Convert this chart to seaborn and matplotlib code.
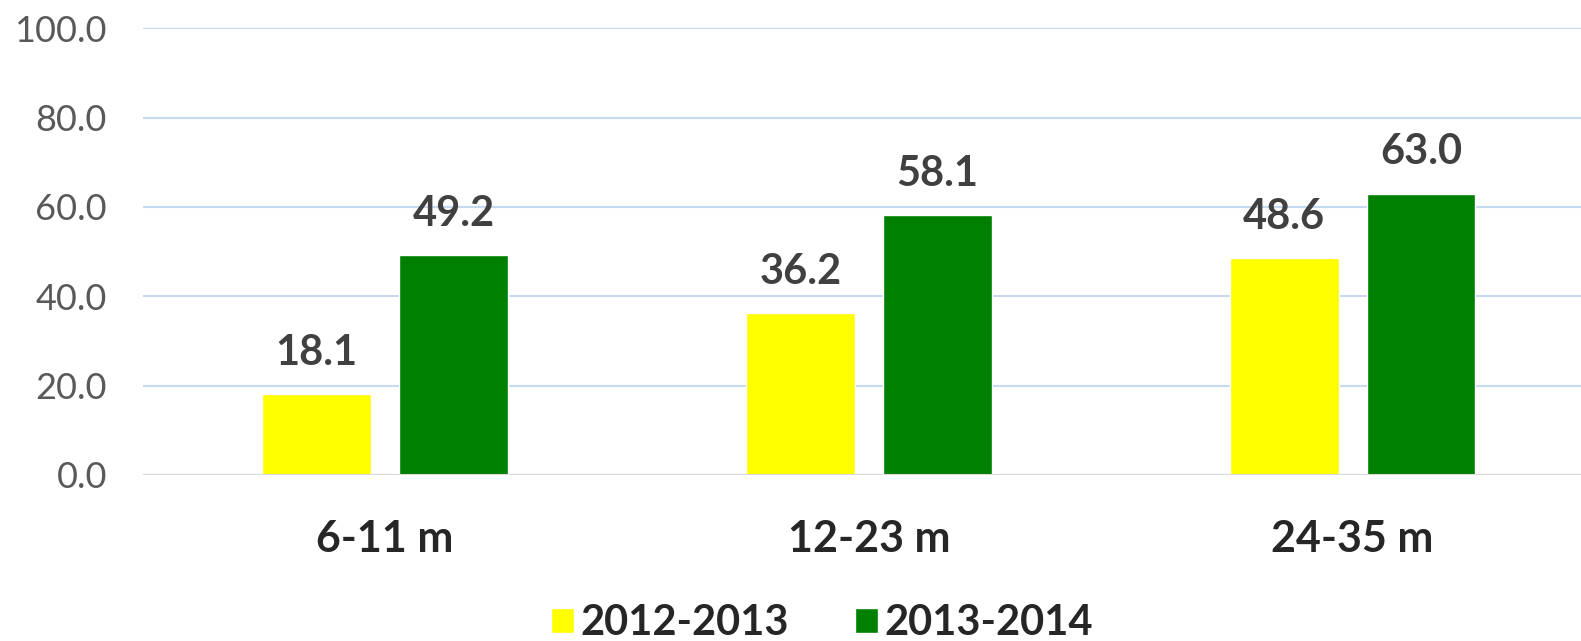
import pandas as pd
import matplotlib
matplotlib.use("Agg")
import matplotlib.pyplot as plt
import seaborn as sns

# chart data
age_groups = ["6-11 m", "12-23 m", "24-35 m"]
periods = ["2012-2013", "2013-2014"]
values_2012_2013 = [18.1, 36.2, 48.6]
values_2013_2014 = [49.2, 58.1, 63.0]
y_ticks = [0, 20, 40, 60, 80, 100]

COLORS = {"2012-2013": "#FFFF00", "2013-2014": "#008000"}

df = pd.DataFrame({
    "age": age_groups * 2,
    "period": [periods[0]] * 3 + [periods[1]] * 3,
    "value": values_2012_2013 + values_2013_2014,
})

sns.set_style("white")
plt.rcParams["font.family"] = ["Lato", "DejaVu Sans"]

fig = plt.figure(figsize=(15.81, 6.41), dpi=100)
ax = fig.add_axes([0.0905, 0.259, 0.918, 0.697])

sns.barplot(data=df, x="age", y="value", hue="period", palette=COLORS,
            width=0.566, gap=0.205, ax=ax, errorbar=None, saturation=1)

for c in ax.containers:
    ax.bar_label(c, fmt="%.1f", padding=16, fontsize=30, fontweight="bold", color="#404040")

ax.set_xlim(-0.5, 2.5)
ax.set_ylim(0, 100)
ax.set_yticks(y_ticks)
ax.set_yticklabels([f"{v:.1f}" for v in y_ticks])
ax.grid(True, axis="y", color="#C5D9F1", linewidth=1.5)
ax.set_axisbelow(True)
ax.axhline(0, color="#D9D9D9", linewidth=1.5, zorder=1)
for s in ax.spines.values():
    s.set_visible(False)

ax.tick_params(axis="y", length=0, pad=26, labelsize=26, labelcolor="#595959")
ax.tick_params(axis="x", length=0, pad=32, labelsize=31)
for t in ax.get_xticklabels():
    t.set_fontweight("bold")
ax.set_xlabel("")
ax.set_ylabel("")

handles, labels = ax.get_legend_handles_labels()
ax.get_legend().remove()
fig.legend(handles, labels, loc="center", bbox_to_anchor=(0.52, 0.028), ncol=2,
           frameon=False, handlelength=0.55, handleheight=0.55, handletextpad=0.15,
           columnspacing=1.6, prop={"size": 30, "weight": "bold"})

fig.savefig("out.png", dpi=100)
